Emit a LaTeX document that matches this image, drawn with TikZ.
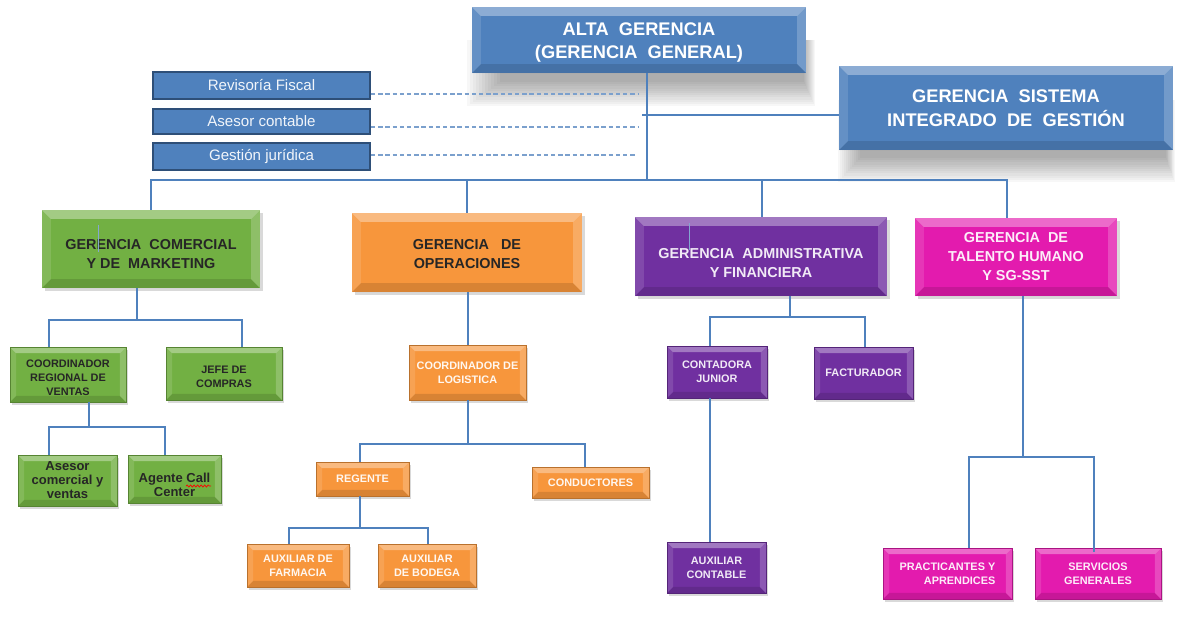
\documentclass[tikz,border=0pt]{standalone}
\usepackage{fontspec}
\setmainfont{Liberation Sans}
\usetikzlibrary{shadows,decorations.pathmorphing}
\definecolor{cblue}{HTML}{4F81BD}
\definecolor{cdark}{HTML}{2E4F78}
\definecolor{cgreen}{HTML}{72B043}
\definecolor{corange}{HTML}{F7963C}
\definecolor{cpurple}{HTML}{7030A0}
\definecolor{cpink}{HTML}{E31BAE}
\definecolor{cline}{HTML}{4F81BD}
\def\pxu{0.02cm}
\newcommand\orgbox[7][]{\node[#1, minimum width={(#5-#3)*\pxu}, minimum height={(#6-#4)*\pxu}] (#2) at ({(#3+#5)/2},{(#4+#6)/2}) {#7};}
\newcommand\tstrut[1]{\rule{0pt}{#1}}
\pgfdeclarelayer{bg}
\pgfsetlayers{bg,main}
\tikzset{
  bevel/.style={path picture={
    \coordinate (bNW) at (path picture bounding box.north west);
    \coordinate (bNE) at (path picture bounding box.north east);
    \coordinate (bSW) at (path picture bounding box.south west);
    \coordinate (bSE) at (path picture bounding box.south east);
    \coordinate (iNW) at ([shift={(#1,-#1)}]bNW);
    \coordinate (iNE) at ([shift={(-#1,-#1)}]bNE);
    \coordinate (iSW) at ([shift={(#1,#1)}]bSW);
    \coordinate (iSE) at ([shift={(-#1,#1)}]bSE);
    \fill[white,opacity=.35] (bNW)--(bNE)--(iNE)--(iNW)--cycle;
    \fill[white,opacity=.12] (bNW)--(iNW)--(iSW)--(bSW)--cycle;
    \fill[white,opacity=.2] (bNE)--(iNE)--(iSE)--(bSE)--cycle;
    \fill[black,opacity=.12] (bSW)--(iSW)--(iSE)--(bSE)--cycle;
  }},
  box/.style={rectangle, inner sep=0pt, align=center, font=\bfseries\fontsize{8.2}{10.8}\selectfont},
  bigbox/.style={box, fill=cblue, text=white, bevel=5pt, font=\bfseries\fontsize{10.4}{13.4}\selectfont},
  sidebox/.style={rectangle, inner sep=0pt, fill=cblue, draw=cdark, line width=1.1pt, text=white!92!cblue, font=\fontsize{8.6}{10}\selectfont},
  mgr/.style={box, bevel=5pt, drop shadow={shadow xshift=1.5pt, shadow yshift=-1.5pt, opacity=.3}},
  small/.style={box, bevel=3.5pt, draw=#1!75!black, line width=0.4pt, fill=#1, drop shadow={shadow xshift=1.2pt, shadow yshift=-1.5pt, opacity=.3}, font=\bfseries\fontsize{6.2}{7.9}\selectfont},
  smalltwo/.style={small=#1, font=\bfseries\fontsize{7.4}{8}\selectfont},
  conn/.style={draw=cline, line width=0.9pt},
  dconn/.style={draw=cline!75!white, line width=0.6pt, dash pattern=on 2.5pt off 1.6pt},
}
\begin{document}
\begin{tikzpicture}[x=0.02cm, y=-0.02cm]
\useasboundingbox (0,0) rectangle (1177,620);

% top level
\orgbox[bigbox]{alta}{472}{7}{806}{73}{\tstrut{10.3pt}ALTA\ \ GERENCIA\\(GERENCIA\ \ GENERAL)}
\orgbox[bigbox]{gsig}{839}{66}{1173}{150}{GERENCIA\ \ SISTEMA\\INTEGRADO\ \ DE\ \ GESTIÓN}
\orgbox[sidebox]{rf}{153}{72}{370}{99}{Revisoría Fiscal}
\orgbox[sidebox]{ac}{153}{109}{370}{134}{Asesor contable}
\orgbox[sidebox]{gj}{153}{143}{370}{170}{Gestión jurídica}

% shadows of the top boxes
\begin{pgfonlayer}{bg}
\foreach \k in {0,...,11}{
  \fill[black,opacity=.032] ({500-3*\k},40) rectangle ({804+1*\k},{82+2.2*\k});
  \fill[black,opacity=.032] ({860-2*\k},100) rectangle ({1166+0.8*\k},{158+2.2*\k});
}
\end{pgfonlayer}

% managers
\orgbox[mgr,fill=cgreen,text=black!85]{gcom}{42}{210}{260}{288}{\tstrut{11.5pt}GERENCIA\ \ COMERCIAL\\Y DE\ \ MARKETING}
\orgbox[mgr,fill=corange,text=black!85]{gop}{352}{213}{582}{292}{\tstrut{7.5pt}GERENCIA\ \ \ DE\\OPERACIONES}
\orgbox[mgr,fill=cpurple,text=white!90!cpurple]{gadm}{635}{217}{887}{296}{\tstrut{12.7pt}GERENCIA\ \ ADMINISTRATIVA\\Y FINANCIERA}
\orgbox[mgr,fill=cpink,text=white!92!cpink]{gth}{915}{218}{1117}{296}{GERENCIA\ \ DE\\TALENTO HUMANO\\Y SG-SST}

% green subtree
\orgbox[small=cgreen,text=black!85]{crv}{10}{347}{126}{402}{\tstrut{7.8pt}COORDINADOR\\REGIONAL DE\\VENTAS}
\orgbox[small=cgreen,text=black!85]{jc}{166}{347}{282}{400}{\tstrut{8.4pt}JEFE DE\\COMPRAS}
\orgbox[smalltwo=cgreen,text=black!85]{acv}{18}{455}{117}{506}{Asesor\\comercial y\\ventas}
\orgbox[smalltwo=cgreen,text=black!85]{acc}{128}{455}{221}{503}{\tstrut{12.2pt}Agente Call\\Center}

% orange subtree
\orgbox[small=corange,text=white!94!orange]{cl}{409}{345}{526}{400}{COORDINADOR DE\\LOGISTICA}
\orgbox[small=corange,text=white!94!orange]{reg}{316}{462}{409}{496}{REGENTE}
\orgbox[small=corange,text=white!94!orange]{cond}{532}{467}{649}{498}{CONDUCTORES}
\orgbox[small=corange,text=white!94!orange]{af}{247}{544}{349}{587}{AUXILIAR DE\\FARMACIA}
\orgbox[small=corange,text=white!94!orange]{ab}{378}{544}{476}{587}{AUXILIAR\\DE BODEGA}

% purple subtree
\orgbox[small=cpurple,text=white!90!cpurple]{cj}{667}{346}{767}{398}{CONTADORA\\JUNIOR}
\orgbox[small=cpurple,text=white!90!cpurple]{fact}{814}{347}{913}{399}{FACTURADOR}
\orgbox[small=cpurple,text=white!90!cpurple]{acont}{667}{542}{766}{593}{AUXILIAR\\CONTABLE}

% pink subtree
\orgbox[small=cpink,text=white!92!cpink,align=right]{prac}{883}{548}{1012}{599}{PRACTICANTES Y\\APRENDICES}
\orgbox[small=cpink,text=white!92!cpink]{serv}{1035}{548}{1161}{599}{SERVICIOS\\GENERALES}

% connectors: top
\draw[conn] (647,0 |- alta.south) -- (647,180);
\draw[conn] (642,115) -- (gsig.west |- 642,115);
\draw[dconn] (rf.east |- 0,94) -- (638,94);
\draw[dconn] (ac.east |- 0,127) -- (638,127);
\draw[dconn] (gj.east |- 0,155) -- (635,155);
\draw[conn] (151,0 |- gcom.north) |- (1007,180) -- (1007,0 |- gth.north);
\draw[conn] (467,0 |- gop.north) -- (467,180);
\draw[conn] (762,0 |- gadm.north) -- (762,180);

% green
\draw[conn] (137,0 |- gcom.south) -- (137,320);
\draw[conn] (49,0 |- crv.north) |- (242,320) -- (242,0 |- jc.north);
\draw[conn] (89,0 |- crv.south) -- (89,427);
\draw[conn] (49,0 |- acv.north) |- (165,427) -- (165,0 |- acc.north);

% orange
\draw[conn] (468,0 |- gop.south) -- (468,0 |- cl.north);
\draw[conn] (468,0 |- cl.south) -- (468,444);
\draw[conn] (360,0 |- reg.north) |- (585,444) -- (585,0 |- cond.north);
\draw[conn] (360,0 |- reg.south) -- (360,528);
\draw[conn] (289,0 |- af.north) |- (428,528) -- (428,0 |- ab.north);

% purple
\draw[conn] (790,0 |- gadm.south) -- (790,317);
\draw[conn] (710,0 |- cj.north) |- (865,317) -- (865,0 |- fact.north);
\draw[conn] (710,0 |- cj.south) -- (710,0 |- acont.north);

% pink
\draw[conn] (1023,0 |- gth.south) -- (1023,457);
\draw[conn] (969,0 |- prac.north) |- (1094,457) -- (1094,552);

% stray marks shown in the picture
\draw[cline!70!white, line width=0.5pt] (98,225) -- (98,252);
\draw[cline!70!white, line width=0.5pt] (689,223) -- (689,250);
\draw[red, line width=0.4pt, decorate, decoration={snake, amplitude=0.6pt, segment length=2pt}] (186,486) -- (211,486);
\end{tikzpicture}
\end{document}
